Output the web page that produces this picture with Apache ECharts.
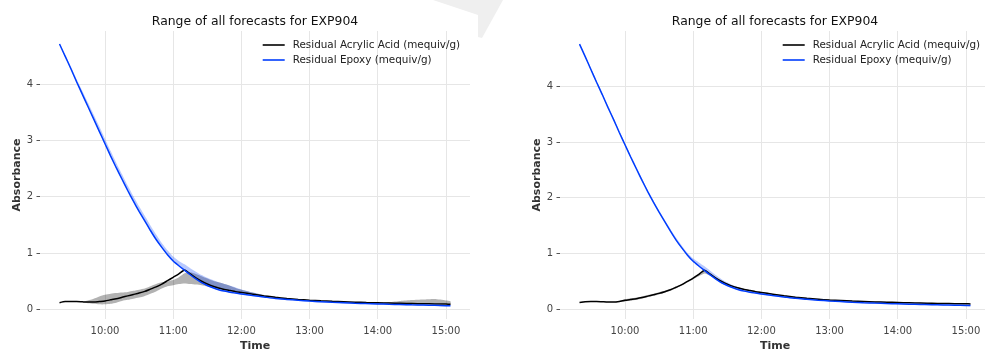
<!DOCTYPE html>
<html><head><meta charset="utf-8">
<script src="https://cdn.jsdelivr.net/npm/echarts@6/dist/echarts.min.js"></script>
<style>html,body{margin:0;padding:0;background:#fff}#c{width:985px;height:349px}</style>
</head><body><div id="c"></div>
<script>
// time in minutes since midnight
const times = [560,565,570,575,580,585,590,595,600,605,610,615,620,625,630,635,640,645,650,655,660,665,670,675,680,685,690,695,700,705,710,715,720,730,740,750,760,770,780,790,800,810,820,830,840,850,860,870,880,890,900,904];
const xTickHours = [10,11,12,13,14,15];
const yTicks = [0,1,2,3,4];
const nameAcrylic = 'Residual Acrylic Acid (mequiv/g)';
const nameEpoxy = 'Residual Epoxy (mequiv/g)';
const titleText = 'Range of all forecasts for EXP904';

// Left panel
const acrylicL = [0.12,0.14,0.14,0.14,0.135,0.13,0.13,0.14,0.15,0.17,0.19,0.215,0.24,0.265,0.29,0.32,0.36,0.40,0.45,0.51,0.57,0.63,0.70,0.63,0.56,0.50,0.45,0.41,0.38,0.355,0.335,0.315,0.30,0.27,0.24,0.215,0.195,0.178,0.163,0.152,0.143,0.136,0.129,0.123,0.118,0.113,0.108,0.104,0.100,0.097,0.094,0.093];
const epoxyL = [4.71,4.49,4.27,4.04,3.82,3.60,3.38,3.16,2.94,2.72,2.51,2.31,2.11,1.92,1.74,1.57,1.40,1.24,1.10,0.97,0.86,0.775,0.695,0.615,0.54,0.475,0.425,0.385,0.35,0.325,0.305,0.29,0.275,0.245,0.22,0.195,0.178,0.162,0.148,0.137,0.127,0.118,0.11,0.103,0.097,0.091,0.086,0.081,0.077,0.072,0.067,0.065];
const acrylicLoL = [0.12,0.14,0.14,0.14,0.13,0.11,0.10,0.09,0.09,0.10,0.12,0.15,0.17,0.19,0.21,0.24,0.28,0.32,0.37,0.41,0.43,0.45,0.46,0.45,0.44,0.43,0.41,0.39,0.37,0.35,0.33,0.31,0.295,0.265,0.235,0.21,0.19,0.175,0.16,0.15,0.14,0.133,0.126,0.12,0.115,0.11,0.105,0.10,0.097,0.094,0.09,0.085];
const acrylicHiL = [0.12,0.14,0.14,0.14,0.14,0.16,0.19,0.23,0.26,0.28,0.29,0.30,0.31,0.33,0.35,0.37,0.41,0.45,0.48,0.50,0.52,0.57,0.64,0.66,0.63,0.59,0.55,0.51,0.48,0.45,0.42,0.38,0.35,0.30,0.255,0.22,0.20,0.18,0.165,0.155,0.145,0.138,0.131,0.126,0.122,0.13,0.15,0.165,0.175,0.185,0.16,0.145];
const epoxyLoL = [4.70,4.48,4.26,4.03,3.81,3.59,3.37,3.15,2.93,2.71,2.50,2.30,2.10,1.91,1.73,1.56,1.39,1.23,1.09,0.96,0.85,0.765,0.685,0.605,0.53,0.465,0.415,0.375,0.34,0.315,0.295,0.28,0.265,0.235,0.21,0.185,0.168,0.152,0.138,0.127,0.117,0.108,0.10,0.093,0.087,0.081,0.076,0.071,0.067,0.062,0.057,0.055];
const epoxyHiL = [4.72,4.52,4.31,4.09,3.88,3.67,3.46,3.25,3.03,2.81,2.60,2.40,2.20,2.01,1.83,1.66,1.49,1.33,1.18,1.05,0.94,0.86,0.80,0.73,0.67,0.61,0.56,0.52,0.48,0.45,0.42,0.39,0.355,0.30,0.25,0.21,0.188,0.17,0.155,0.143,0.133,0.124,0.116,0.109,0.103,0.097,0.092,0.087,0.083,0.078,0.073,0.071];

// Right panel
const acrylicR = [0.12,0.135,0.14,0.14,0.135,0.13,0.13,0.14,0.16,0.175,0.19,0.21,0.235,0.26,0.285,0.315,0.35,0.395,0.44,0.50,0.56,0.625,0.70,0.63,0.56,0.50,0.45,0.41,0.38,0.355,0.335,0.315,0.30,0.27,0.24,0.215,0.195,0.18,0.165,0.155,0.146,0.139,0.132,0.126,0.121,0.116,0.111,0.107,0.103,0.10,0.097,0.096];
const epoxyR = [4.755,4.53,4.30,4.07,3.85,3.62,3.40,3.17,2.95,2.73,2.52,2.31,2.11,1.92,1.74,1.57,1.40,1.24,1.10,0.97,0.86,0.775,0.695,0.615,0.54,0.475,0.425,0.385,0.35,0.325,0.305,0.29,0.275,0.245,0.22,0.195,0.178,0.162,0.148,0.137,0.127,0.118,0.11,0.103,0.097,0.091,0.086,0.081,0.077,0.072,0.067,0.065];
const acrylicLoR = [0.115,0.13,0.135,0.135,0.13,0.125,0.125,0.13,0.14,0.155,0.17,0.19,0.215,0.24,0.265,0.295,0.33,0.375,0.425,0.485,0.54,0.59,0.64,0.60,0.545,0.49,0.44,0.40,0.37,0.345,0.325,0.305,0.29,0.26,0.232,0.208,0.188,0.173,0.158,0.149,0.14,0.133,0.126,0.12,0.115,0.11,0.105,0.101,0.097,0.094,0.091,0.09];
const acrylicHiR = [0.125,0.14,0.145,0.145,0.14,0.135,0.135,0.15,0.18,0.195,0.21,0.23,0.255,0.28,0.305,0.33,0.365,0.41,0.45,0.51,0.57,0.635,0.70,0.64,0.57,0.51,0.46,0.42,0.39,0.365,0.345,0.325,0.31,0.28,0.248,0.222,0.202,0.187,0.172,0.161,0.152,0.145,0.138,0.132,0.127,0.122,0.117,0.113,0.109,0.106,0.103,0.102];
const epoxyLoR = [4.745,4.52,4.29,4.06,3.84,3.61,3.39,3.16,2.94,2.72,2.51,2.30,2.10,1.91,1.73,1.56,1.39,1.23,1.09,0.96,0.85,0.765,0.685,0.605,0.53,0.465,0.415,0.375,0.34,0.315,0.295,0.28,0.265,0.235,0.21,0.185,0.168,0.152,0.138,0.127,0.117,0.108,0.10,0.093,0.087,0.081,0.076,0.071,0.067,0.062,0.057,0.055];
const epoxyHiR = [4.765,4.55,4.33,4.10,3.88,3.65,3.43,3.20,2.98,2.76,2.55,2.34,2.14,1.95,1.77,1.60,1.44,1.28,1.14,1.01,0.91,0.84,0.77,0.69,0.61,0.54,0.48,0.43,0.39,0.36,0.335,0.315,0.295,0.26,0.23,0.205,0.186,0.168,0.153,0.142,0.132,0.123,0.115,0.108,0.102,0.096,0.091,0.086,0.082,0.077,0.072,0.07];

const FONT = 'DejaVu Sans';
const BLACK = '#000000';
const BLUE = '#003DFD';
const GREY_BAND = 'rgba(0,0,0,0.3)';
const BLUE_BAND = 'rgba(0,61,253,0.28)';

const hours = times.map(t => t / 60);

function bandSeries(idx, lo, hi, color, name) {
  return {
    type: 'custom', name: name, xAxisIndex: idx, yAxisIndex: idx, silent: true, z: 1,
    data: hours.map((h, i) => [h, lo[i], hi[i]]),
    encode: { x: 0, y: [1, 2] },
    renderItem: function (params, api) {
      if (params.dataIndex !== 0) return null;
      const pts = [];
      for (let i = 0; i < hours.length; i++) pts.push(api.coord([hours[i], hi[i]]));
      for (let i = hours.length - 1; i >= 0; i--) pts.push(api.coord([hours[i], lo[i]]));
      return { type: 'polygon', shape: { points: pts, smooth: 0.2 }, style: { fill: color } };
    }
  };
}
function lineSeries(idx, vals, color, name) {
  return {
    type: 'line', name: name, xAxisIndex: idx, yAxisIndex: idx, symbol: 'none', z: 3,
    smooth: 0.2,
    data: hours.map((h, i) => [h, vals[i]]),
    lineStyle: { color: color, width: 1.5 }, itemStyle: { color: color }
  };
}
function xAxis(idx) {
  return {
    type: 'value', gridIndex: idx, min: 9.047, max: 15.353,
    name: 'Time', nameLocation: 'middle', nameGap: 17,
    nameTextStyle: { fontFamily: FONT, fontSize: 11, fontWeight: 'bold', color: '#333' },
    axisLine: { show: false },
    axisTick: { show: false, customValues: xTickHours },
    axisLabel: { customValues: xTickHours, margin: 7, fontFamily: FONT, fontSize: 10, color: '#444',
      formatter: v => Math.round(v) + ':00' },
    splitLine: { show: true, lineStyle: { color: '#e6e6e6', width: 1 } }
  };
}
function yAxis(idx, min, max) {
  return {
    type: 'value', gridIndex: idx, min: min, max: max,
    name: 'Absorbance', nameLocation: 'middle', nameGap: 17,
    nameTextStyle: { fontFamily: FONT, fontSize: 11, fontWeight: 'bold', color: '#333' },
    axisLine: { show: false },
    axisTick: { show: true, length: 3.5, customValues: yTicks, lineStyle: { color: '#555', width: 1 } },
    axisLabel: { customValues: yTicks, margin: 7, fontFamily: FONT, fontSize: 10, color: '#444' },
    splitLine: { show: true, lineStyle: { color: '#e6e6e6', width: 1 } }
  };
}
function legend(left) {
  return {
    left: left, top: 40, orient: 'vertical', padding: 0, icon: 'rect',
    itemWidth: 22, itemHeight: 1.6, itemGap: 5,
    data: [nameAcrylic, nameEpoxy], selectedMode: false,
    textStyle: { fontFamily: FONT, fontSize: 10.4, color: '#222', padding: [0, 0, 0, 3] }
  };
}

const chart = echarts.init(document.getElementById('c'), null, { renderer: 'canvas' });
chart.setOption({
  animation: false,
  backgroundColor: '#ffffff',
  graphic: [{ type: 'polygon', z: -10, silent: true,
    shape: { points: [[433, 0], [503, 0], [482, 38], [478, 37], [478, 15]] },
    style: { fill: '#efefef' } }],
  title: [
    { text: titleText, left: 255, top: 16, textAlign: 'center', padding: 0,
      textStyle: { fontFamily: FONT, fontSize: 12.4, fontWeight: 'normal', color: '#111' } },
    { text: titleText, left: 775, top: 16, textAlign: 'center', padding: 0,
      textStyle: { fontFamily: FONT, fontSize: 12.4, fontWeight: 'normal', color: '#111' } }
  ],
  legend: [legend(262.7), legend(782.7)],
  grid: [
    { left: 40, top: 31, width: 430, height: 288, outerBoundsMode: 'none' },
    { left: 560, top: 31, width: 430, height: 288, outerBoundsMode: 'none' }
  ],
  xAxis: [xAxis(0), xAxis(1)],
  yAxis: [yAxis(0, -0.17, 4.94), yAxis(1, -0.175, 4.99)],
  series: [
    bandSeries(0, acrylicLoL, acrylicHiL, GREY_BAND, 'acrylic range L'),
    bandSeries(0, epoxyLoL, epoxyHiL, BLUE_BAND, 'epoxy range L'),
    lineSeries(0, acrylicL, BLACK, nameAcrylic),
    lineSeries(0, epoxyL, BLUE, nameEpoxy),
    bandSeries(1, acrylicLoR, acrylicHiR, GREY_BAND, 'acrylic range R'),
    bandSeries(1, epoxyLoR, epoxyHiR, BLUE_BAND, 'epoxy range R'),
    lineSeries(1, acrylicR, BLACK, nameAcrylic),
    lineSeries(1, epoxyR, BLUE, nameEpoxy)
  ]
});
</script>
</body></html>
